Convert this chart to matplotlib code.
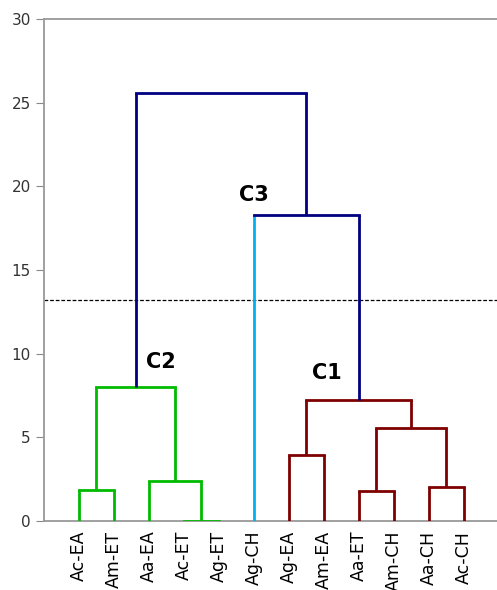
import numpy as np
import matplotlib.pyplot as plt

# leaves in dendrogram order
leaves = ["Ac-EA", "Am-ET", "Aa-EA", "Ac-ET", "Ag-ET", "Ag-CH",
          "Ag-EA", "Am-EA", "Aa-ET", "Am-CH", "Aa-CH", "Ac-CH"]

# merges: nodes 0-11 are leaves, 12+ are merges in order
merge_left = [0, 3, 2, 12, 6, 8, 10, 17, 16, 5, 15]
merge_right = [1, 4, 13, 14, 7, 9, 11, 18, 19, 20, 21]
merge_height = [1.85, 0.0, 2.4, 8.0, 3.95, 1.8, 2.05, 5.55, 7.25, 18.3, 25.55]
merge_color = ["#00BB00"] * 4 + ["#7F0000"] * 5 + ["#000080"] * 2
cut_height = 13.2

cluster_names = ["C3", "C2", "C1"]
cluster_pos = [(6.0, 19.5), (3.35, 9.5), (8.1, 8.85)]

n = len(leaves)
xpos = {i: i + 1.0 for i in range(n)}
ypos = {i: 0.0 for i in range(n)}

fig = plt.figure(figsize=(4.97, 5.90), dpi=100)
ax = fig.add_axes([44 / 497, 69 / 590, 453 / 497, 502 / 590])

for k in range(len(merge_left)):
    a, b, h, c = merge_left[k], merge_right[k], merge_height[k], merge_color[k]
    ca = c
    if a == 5:
        ca = "#00B0F0"  # Ag-CH stands alone
    ax.plot([xpos[a], xpos[a]], [ypos[a], h], color=ca, lw=2, solid_capstyle="butt", zorder=3)
    ax.plot([xpos[b], xpos[b]], [ypos[b], h], color=c, lw=2, solid_capstyle="butt", zorder=3)
    ax.plot([xpos[a], xpos[b]], [h, h], color=c, lw=2, solid_capstyle="projecting", zorder=3)
    node = n + k
    xpos[node] = (xpos[a] + xpos[b]) / 2
    ypos[node] = h

ax.axhline(cut_height, color="black", lw=0.9, ls=(0, (3, 1.5)), zorder=2)

for name, (x, y) in zip(cluster_names, cluster_pos):
    ax.text(x, y, name, fontsize=15, fontweight="bold", ha="center", va="center", zorder=4)

ax.set_xlim(0, 12.95)
ax.set_ylim(0, 30)
ax.set_yticks(range(0, 31, 5))
ax.set_xticks(range(1, n + 1))
ax.set_xticklabels(leaves, rotation=90, fontsize=12.5)
ax.tick_params(axis="x", length=0, pad=7)
ax.tick_params(axis="y", length=6, color="#888888", labelsize=11, labelcolor="#333333")
for s in ["left", "top", "bottom"]:
    ax.spines[s].set_color("#999999")
    ax.spines[s].set_linewidth(1.3)
ax.spines["right"].set_visible(False)

fig.savefig("out.png", dpi=100)
